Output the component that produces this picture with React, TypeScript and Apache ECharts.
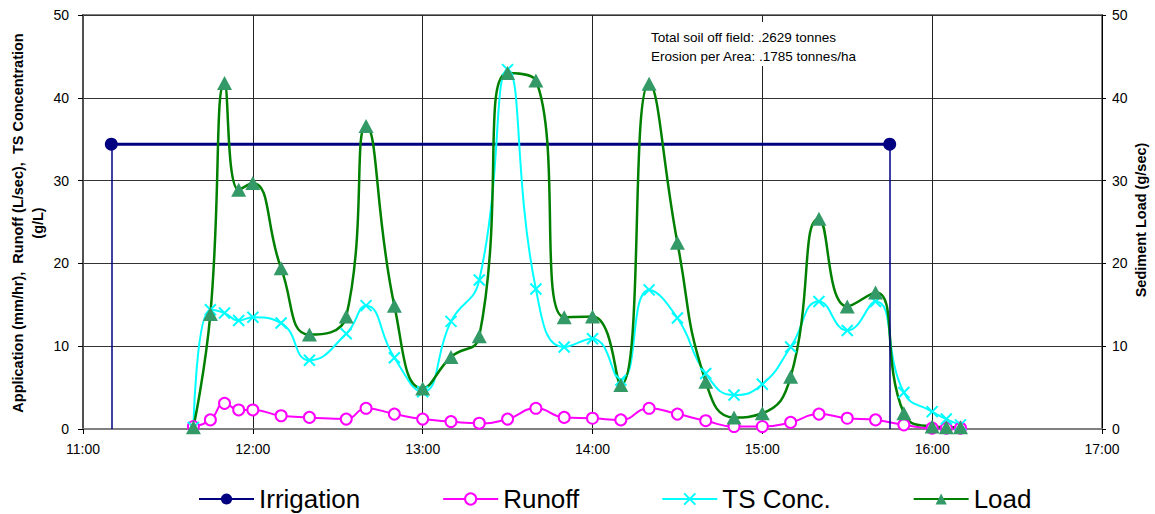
import React, { useEffect, useRef } from "react";
import * as echarts from "echarts";

// Sample times in minutes after 11:00
const sampleMinutes = [39, 45, 50, 55, 60, 70, 80, 93, 100, 110, 120, 130, 140, 150, 160, 170, 180, 190, 200, 210, 220, 230, 240, 250, 260, 270, 280, 290, 300, 305, 310];

// Runoff (L/sec)
const runoff = [0.3, 1.1, 3.1, 2.3, 2.3, 1.6, 1.4, 1.2, 2.5, 1.8, 1.2, 0.9, 0.7, 1.2, 2.5, 1.4, 1.3, 1.1, 2.5, 1.8, 1.0, 0.3, 0.3, 0.8, 1.8, 1.3, 1.1, 0.5, 0.1, 0.1, 0.1];

// Total solids concentration (g/L)
const tsConc = [0.2, 14.4, 14.0, 13.1, 13.5, 12.8, 8.3, 11.5, 14.9, 8.6, 4.5, 13.0, 18.0, 43.4, 16.9, 9.9, 10.9, 5.9, 16.8, 13.4, 6.7, 4.1, 5.4, 9.9, 15.4, 11.9, 15.4, 4.4, 2.1, 1.2, 0.5];

// Sediment load (g/sec)
const load = [0.2, 13.9, 41.8, 28.9, 29.7, 19.4, 11.4, 13.6, 36.6, 14.9, 4.9, 8.7, 11.2, 43.0, 42.1, 13.5, 13.6, 5.3, 41.7, 22.5, 5.7, 1.4, 1.9, 6.3, 25.4, 14.8, 16.5, 1.9, 0.3, 0.2, 0.2];

// Irrigation on/off times (minutes after 11:00) and application rate (mm/hr)
const irrigationMinutes = [10, 285];
const irrigationRate = 34.4;

const startHour = 11;
const axisMax = 360;
const summaryLines = ["Total soil off field: .2629 tonnes", "Erosion per Area: .1785 tonnes/ha"];
const leftAxisTitle = ["Application (mm/hr),  Runoff (L/sec),  TS Concentration", "(g/L)"];
const rightAxisTitle = "Sediment Load (g/sec)";

const FONT = 'Arial, "Liberation Sans", sans-serif';

const pair = (vals: number[]) => sampleMinutes.map((t, i) => [t, vals[i]]);

export default function App() {
  const ref = useRef<HTMLDivElement>(null);

  useEffect(() => {
    document.body.style.margin = "0";
    if (!ref.current) return;
    const chart = echarts.init(ref.current, undefined, { renderer: "svg" });

    const axisLabelStyle = { color: "#000", fontSize: 14, fontFamily: FONT };

    chart.setOption({
      animation: false,
      backgroundColor: "#fff",
      grid: {
        left: 83,
        right: 53,
        top: 15,
        bottom: 85,
        show: true,
        borderColor: "#808080",
        borderWidth: 2,
        backgroundColor: "#fff",
      },
      xAxis: {
        type: "value",
        min: 0,
        max: axisMax,
        interval: 60,
        axisLine: { show: true, lineStyle: { color: "#808080", width: 2 } },
        axisTick: { show: true, length: 5, lineStyle: { color: "#000" } },
        axisLabel: {
          ...axisLabelStyle,
          margin: 13,
          formatter: (v: number) => `${startHour + v / 60}:00`,
        },
        splitLine: { show: true, lineStyle: { color: "#222", width: 1 } },
      },
      yAxis: [
        {
          type: "value",
          min: 0,
          max: 50,
          interval: 10,
          axisLine: { show: true, lineStyle: { color: "#505050", width: 2 } },
          axisTick: { show: true, length: 5, lineStyle: { color: "#000" } },
          axisLabel: { ...axisLabelStyle, margin: 14 },
          splitLine: { show: true, lineStyle: { color: "#333", width: 1 } },
        },
        {
          type: "value",
          min: 0,
          max: 50,
          interval: 10,
          position: "right",
          axisLine: { show: true, lineStyle: { color: "#000", width: 1 } },
          axisTick: { show: true, length: 4, lineStyle: { color: "#000" } },
          axisLabel: { ...axisLabelStyle, margin: 10 },
          splitLine: { show: false },
        },
      ],
      legend: {
        left: 193,
        top: 481,
        itemWidth: 55,
        itemHeight: 14,
        itemGap: 82,
        textStyle: { color: "#000", fontSize: 26, fontFamily: FONT },
        data: ["Irrigation", "Runoff", "TS Conc.", "Load"],
      },
      series: [
        {
          name: "Irrigation",
          type: "line",
          yAxisIndex: 0,
          data: irrigationMinutes.map((t) => [t, irrigationRate]),
          symbol: "circle",
          symbolSize: 13,
          lineStyle: { color: "#000080", width: 3 },
          itemStyle: { color: "#000080" },
          markLine: {
            silent: true,
            symbol: "none",
            label: { show: false },
            lineStyle: { color: "#000080", width: 1.5, type: "solid" },
            data: irrigationMinutes.map((t) => [
              { coord: [t, 0] },
              { coord: [t, irrigationRate] },
            ]),
          },
        },
        {
          name: "Runoff",
          type: "line",
          yAxisIndex: 0,
          data: pair(runoff),
          smooth: 0.5,
          symbol: "emptyCircle",
          symbolSize: 11,
          lineStyle: { color: "#FF00FF", width: 2 },
          itemStyle: { color: "#FF00FF", borderColor: "#FF00FF", borderWidth: 2 },
        },
        {
          name: "TS Conc.",
          type: "line",
          yAxisIndex: 0,
          data: pair(tsConc),
          smooth: 0.5,
          symbol: "path://M0,0L10,10M0,10L10,0",
          symbolSize: 11,
          lineStyle: { color: "#00FFFF", width: 2 },
          itemStyle: { color: "#00FFFF", borderColor: "#00FFFF", borderWidth: 2 },
        },
        {
          name: "Load",
          type: "line",
          yAxisIndex: 1,
          data: pair(load),
          smooth: 0.5,
          symbol: "triangle",
          symbolSize: [15, 14],
          lineStyle: { color: "#008000", width: 2.5 },
          itemStyle: { color: "#339966" },
        },
      ],
      graphic: [
        {
          type: "rect",
          shape: { x: 642, y: 22, width: 245, height: 44 },
          style: { fill: "#fff" },
          z: 10,
        },
        ...summaryLines.map((line, i) => ({
          type: "text",
          x: 651,
          y: 37 + i * 19,
          z: 11,
          style: {
            text: line,
            fill: "#000",
            font: `13.5px ${FONT}`,
            textVerticalAlign: "middle",
          },
        })),
        ...leftAxisTitle.map((line, i) => ({
          type: "text",
          x: 18 + i * 20,
          y: 223,
          rotation: Math.PI / 2,
          style: {
            text: line,
            fill: "#000",
            font: `bold 14.5px ${FONT}`,
            textAlign: "center",
            textVerticalAlign: "middle",
          },
        })),
        {
          type: "text",
          x: 1141,
          y: 220,
          rotation: Math.PI / 2,
          style: {
            text: rightAxisTitle,
            fill: "#000",
            font: `bold 14.5px ${FONT}`,
            textAlign: "center",
            textVerticalAlign: "middle",
          },
        },
      ],
    });

    return () => chart.dispose();
  }, []);

  return <div ref={ref} style={{ width: 1155, height: 514 }} />;
}
